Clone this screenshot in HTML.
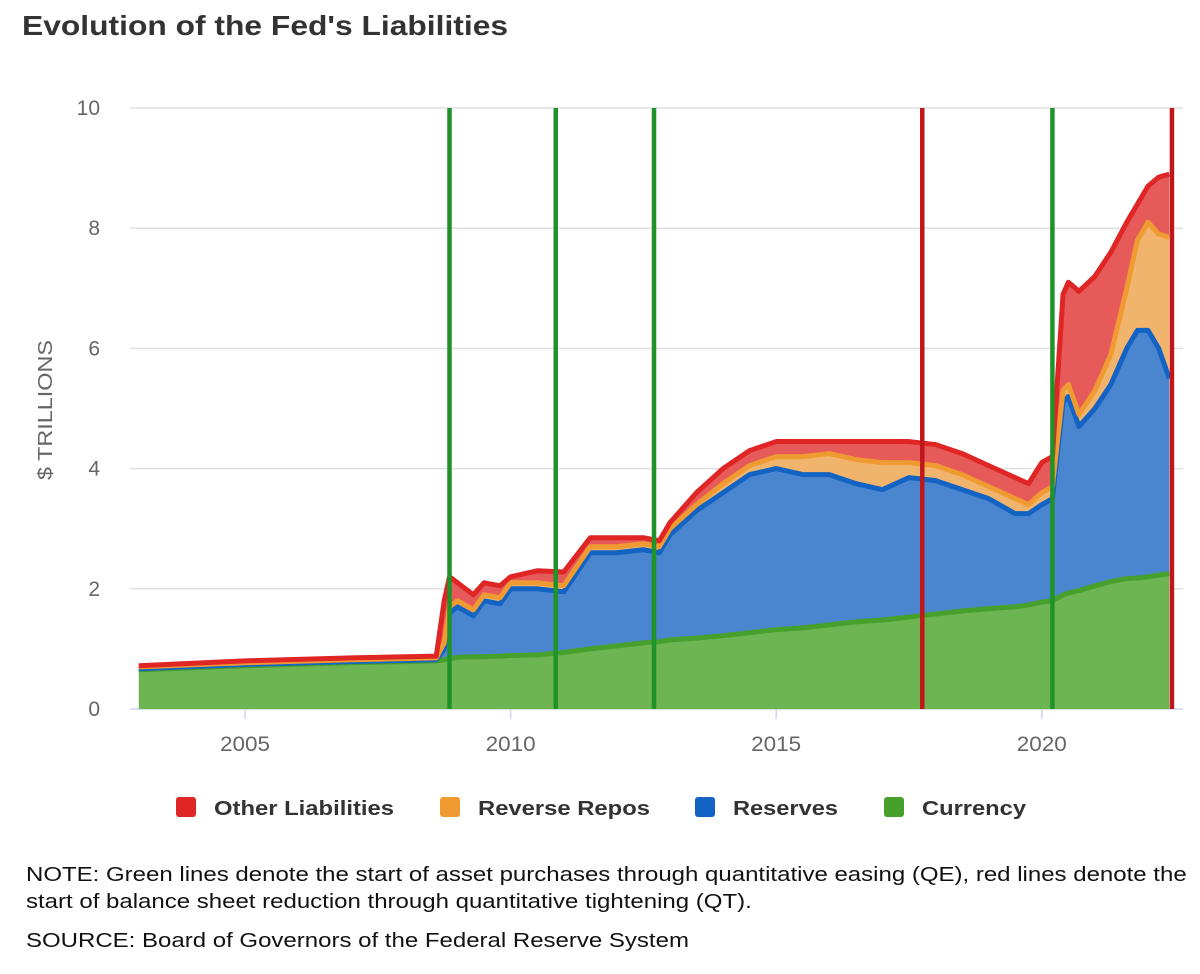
<!DOCTYPE html>
<html><head><meta charset="utf-8">
<style>
body{margin:0;background:#fff;font-family:"Liberation Sans",Arial,sans-serif;}
#wrap{position:relative;width:1200px;height:974px;overflow:hidden;}
.title{position:absolute;left:22px;top:10px;font-size:28px;font-weight:bold;color:#333;transform:scaleX(1.135);transform-origin:left top;white-space:nowrap;}
.note{position:absolute;left:26px;font-size:20px;color:#111;line-height:27px;transform:scaleX(1.2);transform-origin:left top;white-space:nowrap;}
</style></head><body>
<div id="wrap">
<div class="title">Evolution of the Fed's Liabilities</div>
<svg id="chart" width="1200" height="974" style="position:absolute;left:0;top:0"></svg>
<div class="note" style="top:862px">NOTE: Green lines denote the start of asset purchases through quantitative easing (QE), red lines denote the<br>start of balance sheet reduction through quantitative tightening (QT).</div>
<div class="note" style="top:928px">SOURCE: Board of Governors of the Federal Reserve System</div>
</div>
<script>
const dates=[2003.0,2005.0,2007.0,2008.6,2008.75,2008.85,2009.0,2009.3,2009.5,2009.8,2010.0,2010.5,2011.0,2011.5,2012.0,2012.5,2012.8,2013.0,2013.5,2014.0,2014.5,2015.0,2015.5,2016.0,2016.5,2017.0,2017.5,2018.0,2018.5,2019.0,2019.5,2019.75,2020.0,2020.2,2020.4,2020.5,2020.7,2021.0,2021.3,2021.6,2021.8,2022.0,2022.2,2022.4];
const currency=[0.65,0.72,0.77,0.80,0.82,0.84,0.86,0.87,0.87,0.88,0.89,0.90,0.94,1.0,1.05,1.1,1.12,1.15,1.18,1.22,1.27,1.32,1.35,1.40,1.45,1.48,1.53,1.58,1.63,1.67,1.70,1.73,1.78,1.80,1.90,1.93,1.97,2.05,2.12,2.17,2.18,2.2,2.23,2.25];
const reserves=[0.02,0.02,0.02,0.02,0.18,0.76,0.84,0.68,0.93,0.87,1.11,1.10,1.01,1.6,1.55,1.55,1.48,1.75,2.12,2.38,2.63,2.68,2.55,2.5,2.3,2.17,2.32,2.22,2.02,1.83,1.55,1.52,1.62,1.7,3.2,3.27,2.73,2.95,3.28,3.83,4.12,4.1,3.77,3.25];
const reverseRepos=[0.03,0.03,0.03,0.03,0.1,0.1,0.1,0.1,0.1,0.1,0.1,0.1,0.1,0.1,0.1,0.1,0.1,0.1,0.1,0.15,0.15,0.2,0.3,0.35,0.4,0.45,0.25,0.25,0.25,0.2,0.25,0.15,0.2,0.2,0.2,0.2,0.2,0.3,0.5,1.0,1.5,1.8,1.9,2.35];
const otherLiabilities=[0.02,0.03,0.03,0.03,0.7,0.5,0.3,0.25,0.2,0.2,0.1,0.2,0.23,0.15,0.15,0.1,0.1,0.1,0.2,0.25,0.25,0.25,0.25,0.2,0.3,0.35,0.35,0.35,0.35,0.35,0.35,0.35,0.5,0.5,1.6,1.7,2.05,1.9,1.7,1.1,0.6,0.6,0.95,1.05];
const yTicks=[0,2,4,6,8,10];
const xTicks=[2005,2010,2015,2020];
const qeDates=[2008.85,2010.85,2012.7,2020.2];
const qtDates=[2017.75,2022.45];

const NS="http://www.w3.org/2000/svg";
const svg=document.getElementById('chart');
const X=d=>245+(d-2005)*53.12;
const Y=v=>709-v*60.1;
function mk(t,a){const e=document.createElementNS(NS,t);for(const k in a)e.setAttribute(k,a[k]);svg.appendChild(e);return e;}

yTicks.forEach(t=>{
  const g=mk('line',{x1:130,x2:1183,y1:Y(t),y2:Y(t),stroke:t===0?'#ccd6eb':'#e0e0e0','stroke-width':1.5});
  
  
  const l=mk('text',{x:100,y:Y(t)+7,'text-anchor':'end','font-size':21,fill:'#666'});
  l.textContent=t;
  
  
});
xTicks.forEach(t=>{
  const l=mk('text',{x:X(t),y:751,'text-anchor':'middle','font-size':21,fill:'#666',textLength:50,lengthAdjust:'spacingAndGlyphs'});
  l.textContent=t;
  
  
  const tk=mk('line',{x1:X(t),x2:X(t),y1:709,y2:719,stroke:'#ccd6eb','stroke-width':1.5});
  
  
});
const yt=mk('text',{x:52,y:410,'text-anchor':'middle','font-size':20,fill:'#666',transform:'rotate(-90 52 410)',textLength:140,lengthAdjust:'spacingAndGlyphs'});
yt.textContent='$ TRILLIONS';



const series=[
 {name:'currency',vals:currency,fill:'#6db553',stroke:'#48a02c'},
 {name:'reserves',vals:reserves,fill:'#4a86cf',stroke:'#1263c4'},
 {name:'reverse-repos',vals:reverseRepos,fill:'#f1b46d',stroke:'#f09a32'},
 {name:'other-liabilities',vals:otherLiabilities,fill:'#e65a5a',stroke:'#e02525'}];
let base=dates.map(()=>0);
const layers=[];
series.forEach(s=>{
  const top=base.map((b,i)=>b+s.vals[i]);
  layers.push({s,top,base:base.slice()});
  base=top;
});
layers.forEach(L=>{
  let d='M'+dates.map((t,i)=>X(t)+','+Y(L.top[i])).join('L');
  d+='L'+dates.slice().reverse().map((t,j)=>X(t)+','+Y(L.base[dates.length-1-j])).join('L')+'Z';
  const a=mk('path',{d,fill:L.s.fill,stroke:'none'});
  
  
});
layers.forEach(L=>{
  const p=mk('polyline',{points:dates.map((t,i)=>X(t)+','+Y(L.top[i])).join(' '),fill:'none',stroke:L.s.stroke,'stroke-width':5,'stroke-linejoin':'round'});
  
  
});
qeDates.forEach(t=>{
  const l=mk('line',{x1:X(t),x2:X(t),y1:108,y2:709,stroke:'#20922a','stroke-width':4.5});
  
  
});
qtDates.forEach(t=>{
  const l=mk('line',{x1:X(t),x2:X(t),y1:108,y2:709,stroke:'#c0181a','stroke-width':4.5});
  
  
});
const leg=[['Other Liabilities','#e02525',176,180],['Reverse Repos','#f09a32',440,172],['Reserves','#1263c4',695,105],['Currency','#48a02c',884,104]];
leg.forEach(([n,c,x,w])=>{
  const r=mk('rect',{x:x,y:797,width:20,height:20,rx:3,fill:c});
  
  
  const t=mk('text',{x:x+38,y:815,'font-size':20,'font-weight':'bold',fill:'#333',textLength:w,lengthAdjust:'spacingAndGlyphs'});
  t.textContent=n;
  
  
});
</script>
</body></html>
